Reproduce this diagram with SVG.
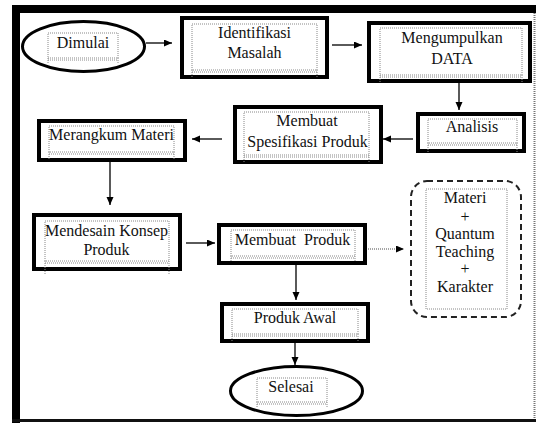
<svg xmlns="http://www.w3.org/2000/svg" width="537" height="423" viewBox="0 0 537 423">
<style>
.box{fill:#fff;stroke:#000;stroke-width:4}
.ell{fill:#fff;stroke:#000;stroke-width:3}
.tb{fill:none;stroke:#888;stroke-width:1;stroke-dasharray:1 1}
.t{font-family:'Liberation Serif','Tinos','Times New Roman','DejaVu Serif',serif;font-size:16px;fill:#111;text-anchor:middle}
.c{fill:none;stroke:#000;stroke-width:1.3}
.cd{fill:none;stroke:#888;stroke-width:1.5;stroke-dasharray:1 1}
</style>
<defs>
<marker id="ah" markerUnits="userSpaceOnUse" markerWidth="9" markerHeight="8" refX="8" refY="3.5" orient="auto">
<path d="M0,0 L8,3.5 L0,7 z" fill="#000"/>
</marker>
</defs>
<rect x="0" y="0" width="537" height="423" fill="#fff"/>
<g id="frame">
<rect x="12" y="5" width="8" height="418" fill="#000"/>
<rect x="12" y="5" width="524" height="8" fill="#000"/>
<rect x="12" y="419" width="524" height="3" fill="#111"/>
<line x1="534.5" y1="13" x2="534.5" y2="419" stroke="#777" stroke-width="2" stroke-dasharray="1 1"/>
</g>
<g id="connectors">
<path class="c" d="M146 43 H172" marker-end="url(#ah)"/>
<path class="c" d="M332 45 H362" marker-end="url(#ah)"/>
<path class="c" d="M459 83 V110" marker-end="url(#ah)"/>
<path class="c" d="M413 139 H383" marker-end="url(#ah)"/>
<path class="c" d="M222 139 H192" marker-end="url(#ah)"/>
<path class="c" d="M110 162 V205" marker-end="url(#ah)"/>
<path class="c" d="M186 243 H215" marker-end="url(#ah)"/>
<path class="cd" d="M368 249 H404" marker-end="url(#ah)"/>
<path class="c" d="M296 265 V300" marker-end="url(#ah)"/>
<path class="c" d="M295 343 V365" marker-end="url(#ah)"/>
</g>
<g id="dimulai">
<ellipse class="ell" cx="83.5" cy="46.5" rx="61" ry="25"/>
<rect class="tb" x="48" y="33" width="70" height="25"/>
<path class="tb" d="M48 60 H118 M48 58 V64 M118 58 V64"/>
<text class="t" x="83" y="48" font-family="Liberation Serif, serif">Dimulai</text>
</g>
<g id="identifikasi">
<rect class="box" x="182" y="18" width="145" height="59"/>
<rect class="tb" x="192" y="24" width="125" height="46"/>
<path class="tb" d="M192 72 H317 M192 70 V77 M317 70 V77"/>
<text class="t" x="254.5" y="38">Identifikasi</text>
<text class="t" x="254.5" y="58">Masalah</text>
</g>
<g id="mengumpulkan">
<rect class="box" x="369" y="23" width="161" height="58"/>
<rect class="tb" x="380" y="28" width="142" height="47"/>
<path class="tb" d="M380 77 H522 M380 75 V82 M522 75 V82"/>
<text class="t" x="452" y="43">Mengumpulkan</text>
<text class="t" x="452" y="64">DATA</text>
</g>
<g id="analisis">
<rect class="box" x="418" y="114" width="106" height="37"/>
<rect class="tb" x="428" y="119" width="89" height="24"/>
<path class="tb" d="M428 145 H517 M428 143 V152 M517 143 V152"/>
<text class="t" x="472" y="132">Analisis</text>
</g>
<g id="spesifikasi">
<rect class="box" x="235" y="107" width="146" height="55"/>
<rect class="tb" x="244" y="112" width="125" height="43"/>
<path class="tb" d="M244 157 H369 M244 155 V162 M369 155 V162"/>
<text class="t" x="307" y="126">Membuat</text>
<text class="t" x="307.5" y="147">Spesifikasi Produk</text>
</g>
<g id="merangkum">
<rect class="box" x="39" y="121" width="146" height="39"/>
<rect class="tb" x="49" y="126" width="125" height="26"/>
<path class="tb" d="M49 154 H174 M49 152 V160 M174 152 V160"/>
<text class="t" x="111.5" y="140">Merangkum Materi</text>
</g>
<g id="mendesain">
<rect class="box" x="34" y="215" width="146" height="54"/>
<rect class="tb" x="45" y="221" width="124" height="40"/>
<path class="tb" d="M45 263 H169 M45 261 V274 M169 261 V274"/>
<text class="t" x="106.5" y="236">Mendesain Konsep</text>
<text class="t" x="106.5" y="255">Produk</text>
</g>
<g id="membuat-produk">
<rect class="box" x="219" y="225" width="146" height="38"/>
<rect class="tb" x="231" y="230" width="124" height="26"/>
<path class="tb" d="M231 258 H355 M231 256 V262 M355 256 V262"/>
<text class="t" x="292.5" y="245" xml:space="preserve">Membuat  Produk</text>
</g>
<g id="materi">
<rect x="411" y="181" width="110" height="136" rx="16" ry="16" fill="none" stroke="#222" stroke-width="2" stroke-dasharray="6 4"/>
<rect class="tb" x="426" y="189" width="81" height="120"/>
<text class="t" x="465" y="203">Materi</text>
<text class="t" x="465" y="222">+</text>
<text class="t" x="465" y="239">Quantum</text>
<text class="t" x="465" y="257">Teaching</text>
<text class="t" x="465" y="274">+</text>
<text class="t" x="465" y="292">Karakter</text>
</g>
<g id="produk-awal">
<rect class="box" x="222" y="304" width="146" height="37"/>
<rect class="tb" x="232" y="309" width="126" height="25"/>
<path class="tb" d="M232 336 H358 M232 334 V342 M358 334 V342"/>
<text class="t" x="295" y="323">Produk Awal</text>
</g>
<g id="selesai">
<ellipse class="ell" cx="296.5" cy="391" rx="66" ry="24.5"/>
<rect class="tb" x="257" y="378" width="70" height="24"/>
<path class="tb" d="M257 404 H327 M257 402 V408 M327 402 V408"/>
<text class="t" x="291" y="392">Selesai</text>
</g>
</svg>
